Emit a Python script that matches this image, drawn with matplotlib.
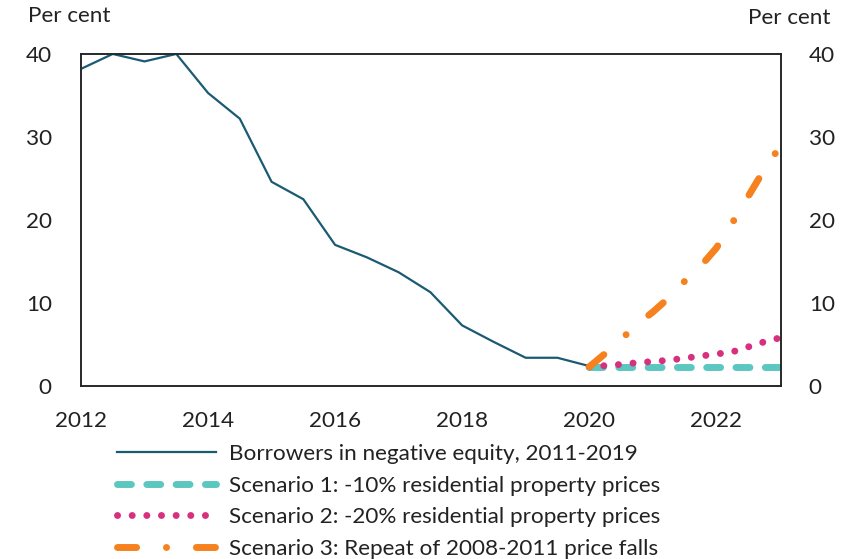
import numpy as np
import matplotlib
matplotlib.use("Agg")
import matplotlib.pyplot as plt

plt.rcParams['font.family'] = ['Lato', 'DejaVu Sans']

# Borrowers in negative equity, half-yearly
hist_x = [2012.0, 2012.5, 2013.0, 2013.5, 2014.0, 2014.5, 2015.0, 2015.5, 2016.0,
          2016.5, 2017.0, 2017.5, 2018.0, 2018.5, 2019.0, 2019.5, 2020.0]
hist_y = [38.2, 40.0, 39.1, 40.0, 35.3, 32.2, 24.6, 22.5, 17.0,
          15.5, 13.7, 11.3, 7.3, 5.3, 3.4, 3.4, 2.4]

# Scenarios, quarterly from 2020
scen_x = [2020.0, 2020.25, 2020.5, 2020.75, 2021.0, 2021.25, 2021.5,
          2021.75, 2022.0, 2022.25, 2022.5, 2022.75, 2023.0]
scen1 = [2.3] * 13
scen2 = [2.3, 2.45, 2.6, 2.8, 2.95, 3.1, 3.35, 3.6, 3.85, 4.1, 4.7, 5.3, 5.8]
scen3 = [2.3, 3.9, 5.6, 7.4, 8.9, 10.6, 12.6, 14.4, 16.6, 19.6, 22.8, 26.0, 28.8]

labels = ["Borrowers in negative equity, 2011-2019",
          "Scenario 1: -10% residential property prices",
          "Scenario 2: -20% residential property prices",
          "Scenario 3: Repeat of 2008-2011 price falls"]

fs = 16.2
txt = '#222222'
fig = plt.figure(figsize=(8.41, 5.59), dpi=100)
ax = fig.add_axes([0.0963, 0.3095, 0.8324, 0.594])

l0, = ax.plot(hist_x, hist_y, color='#1b5a73', lw=1.6, zorder=3)
l1, = ax.plot(scen_x, scen1, color='#5cc6c0', lw=5, linestyle=(0, (2.0, 2.22)),
              dash_capstyle='round', zorder=2)
l2, = ax.plot(scen_x, scen2, color='#d6307f', lw=5, linestyle=(0, (0.01, 2.1)),
              dash_capstyle='round', zorder=4)
l3, = ax.plot(scen_x, scen3, color='#f5821f', lw=5,
              linestyle=(0, (2.75, 4.3, 0.01, 4.3)),
              dash_capstyle='round', zorder=5)

ax.set_xlim(2012, 2023.02)
ax.set_ylim(0, 40)
ax.set_xticks([2012, 2014, 2016, 2018, 2020, 2022])
ax.set_yticks([0, 10, 20, 30, 40])
ax.tick_params(axis='both', length=0, labelsize=fs, colors=txt)
ax.tick_params(axis='x', pad=18)
ax.tick_params(axis='y', pad=21)

ax2 = ax.twinx()
ax2.set_ylim(0, 40)
ax2.set_yticks([0, 10, 20, 30, 40])
ax2.tick_params(axis='y', length=0, labelsize=fs, pad=20, colors=txt)

for a in (ax, ax2):
    for s in a.spines.values():
        s.set_linewidth(1.1)
        s.set_color(txt)

fig.text(28 / 841, 1 - 16 / 559, "Per cent", fontsize=fs, va='center', ha='left',
         color=txt)
fig.text(830 / 841, 1 - 18 / 559, "Per cent", fontsize=fs, va='center', ha='right',
         color=txt)

fig.legend([l0, l1, l2, l3], labels, loc='upper left',
           bbox_to_anchor=(117 / 841, 0.206), frameon=False, fontsize=fs,
           handlelength=4.4, handletextpad=0.58, labelspacing=0.52,
           borderpad=0, borderaxespad=0, labelcolor=txt)

fig.savefig("out.png", dpi=100)
